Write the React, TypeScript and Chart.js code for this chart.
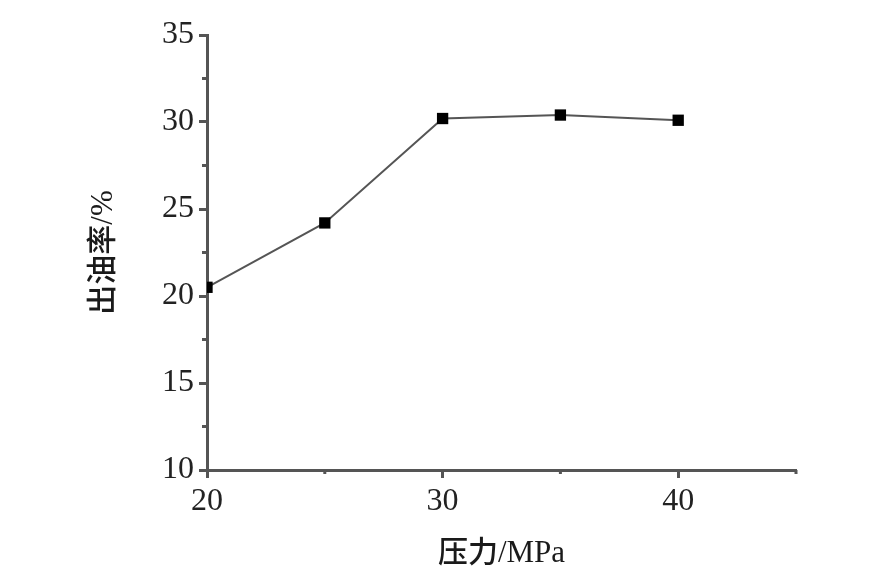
import React, { useEffect, useRef } from "react";
import { Chart, registerables } from "chart.js";

Chart.register(...registerables);

const pressures = [20, 25, 30, 35, 40];
const oilYield = [20.5, 24.2, 30.2, 30.4, 30.1];
const xMajorTicks = [20, 30, 40];
const xMinorTicks = [25, 35, 45];
const yMinorTicks = [12.5, 17.5, 22.5, 27.5, 32.5];
const xTitleCJK = "压力";
const xTitleLatin = "/MPa";
const yTitleCJK = "出油率";
const yTitleLatin = "/%";

const AXIS_COLOR = "#555555";
const SERIF = "'Liberation Serif', 'Times New Roman', serif";
const CJK = "'Noto Sans CJK SC', sans-serif";

const extrasPlugin = {
  id: "extras",
  afterDraw(chart: any) {
    const ctx = chart.ctx as CanvasRenderingContext2D;
    const xs = chart.scales.x;
    const ys = chart.scales.y;
    const area = chart.chartArea;
    ctx.save();
    ctx.strokeStyle = AXIS_COLOR;
    ctx.lineWidth = 3;
    ctx.beginPath();
    for (const v of yMinorTicks) {
      const py = ys.getPixelForValue(v);
      ctx.moveTo(area.left - 5, py);
      ctx.lineTo(area.left, py);
    }
    for (const v of xMinorTicks) {
      const px = xs.getPixelForValue(v);
      ctx.moveTo(px, area.bottom);
      ctx.lineTo(px, area.bottom + 4);
    }
    ctx.stroke();

    const drawComposite = (cx: number, cy: number, rotate: boolean, a: string, b: string) => {
      ctx.save();
      ctx.translate(cx, cy);
      if (rotate) ctx.rotate(-Math.PI / 2);
      ctx.fillStyle = "#1a1a1a";
      ctx.textBaseline = "alphabetic";
      ctx.textAlign = "left";
      ctx.font = `500 30px ${CJK}`;
      const wa = ctx.measureText(a).width;
      ctx.font = `31px ${SERIF}`;
      const wb = ctx.measureText(b).width;
      const start = -(wa + wb) / 2;
      ctx.font = `500 30px ${CJK}`;
      ctx.fillText(a, start, 11);
      ctx.font = `31px ${SERIF}`;
      ctx.fillText(b, start + wa, 11);
      ctx.restore();
    };
    drawComposite((area.left + area.right) / 2, 551, false, xTitleCJK, xTitleLatin);
    drawComposite(101, (area.top + area.bottom) / 2, true, yTitleCJK, yTitleLatin);
    ctx.restore();
  },
};

export default function App() {
  const ref = useRef<HTMLCanvasElement | null>(null);
  useEffect(() => {
    if (!ref.current) return;
    const chart = new Chart(ref.current, {
      type: "line",
      data: {
        datasets: [
          {
            data: pressures.map((p, i) => ({ x: p, y: oilYield[i] })),
            borderColor: "#555555",
            borderWidth: 2,
            pointStyle: "rect",
            pointRadius: 8,
            pointBackgroundColor: "#000000",
            pointBorderColor: "#000000",
            pointBorderWidth: 0,
            tension: 0,
          },
        ],
      },
      options: {
        animation: false,
        responsive: false,
        maintainAspectRatio: false,
        layout: { padding: { left: 0, right: 100, top: 35, bottom: 0 } },
        plugins: { legend: { display: false }, tooltip: { enabled: false } },
        scales: {
          x: {
            type: "linear",
            min: 20,
            max: 45,
            afterBuildTicks: (scale: any) => {
              scale.ticks = xMajorTicks.map((v) => ({ value: v }));
            },
            afterFit: (scale: any) => {
              scale.height = 118;
            },
            grid: {
              drawOnChartArea: false,
              drawTicks: true,
              tickLength: 8,
              tickWidth: 3,
              tickColor: AXIS_COLOR,
            },
            border: { display: true, color: AXIS_COLOR, width: 3 },
            ticks: {
              padding: 4,
              color: "#222222",
              font: { family: SERIF, size: 32 },
              maxRotation: 0,
            },
          },
          y: {
            type: "linear",
            min: 10,
            max: 35,
            ticks: {
              stepSize: 5,
              padding: 5,
              color: "#222222",
              font: { family: SERIF, size: 32 },
            },
            afterFit: (scale: any) => {
              scale.width = 207;
            },
            grid: {
              drawOnChartArea: false,
              drawTicks: true,
              tickLength: 8,
              tickWidth: 3,
              tickColor: AXIS_COLOR,
            },
            border: { display: true, color: AXIS_COLOR, width: 3 },
          },
        },
      },
      plugins: [extrasPlugin],
    });
    return () => chart.destroy();
  }, []);
  return (
    <div style={{ position: "fixed", left: 0, top: 0, width: 896, height: 588, background: "#ffffff" }}>
      <canvas ref={ref} width={896} height={588} style={{ display: "block" }} />
    </div>
  );
}
